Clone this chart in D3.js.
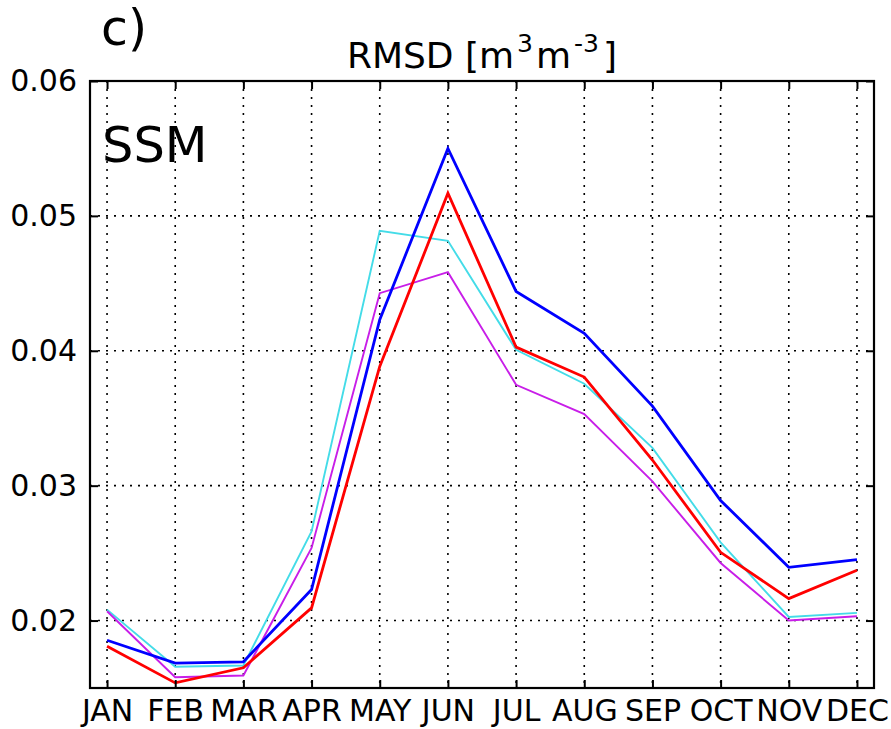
<!DOCTYPE html>
<html>
<head>
<meta charset="utf-8">
<script src="https://cdn.jsdelivr.net/npm/d3@7"></script>
<style>
  body { margin: 0; background: #fff; }
  text { font-family: "DejaVu Sans", sans-serif; fill: #000; }
</style>
</head>
<body>
<div class="container"></div>
<script>
let months = ["JAN", "FEB", "MAR", "APR", "MAY", "JUN", "JUL", "AUG", "SEP", "OCT", "NOV", "DEC"];
let yTicks = [0.02, 0.03, 0.04, 0.05, 0.06];

let blueValues = [0.01854, 0.01684, 0.01694, 0.0223, 0.0423, 0.0550, 0.0444, 0.0413, 0.0359, 0.0289, 0.02395, 0.02452];
let redValues = [0.0181, 0.01538, 0.0165, 0.02094, 0.03884, 0.05168, 0.04027, 0.03805, 0.0319, 0.02506, 0.02163, 0.02373];
let cyanValues = [0.02081, 0.01657, 0.01667, 0.02661, 0.04889, 0.04815, 0.04007, 0.03756, 0.0328, 0.0258, 0.02027, 0.02057];
let magentaValues = [0.02069, 0.0158, 0.01593, 0.02538, 0.04427, 0.04583, 0.03748, 0.03531, 0.03032, 0.02427, 0.0200, 0.02032];

let series = [
  { values: cyanValues, color: "#44dce8", width: 1.9 },
  { values: magentaValues, color: "#c81ee8", width: 1.9 },
  { values: blueValues, color: "#0000ff", width: 2.8 },
  { values: redValues, color: "#ff0000", width: 2.8 }
];

let width = 891, height = 729;
let plotLeft = 90, plotRight = 874, plotTop = 81, plotBottom = 688;

let svg = d3.select(".container")
  .append("svg")
  .attr("width", width)
  .attr("height", height);

let x = d3.scaleLinear().domain([0.75, 12.25]).range([plotLeft, plotRight]);
let y = d3.scaleLinear().domain([0.015, 0.06]).range([plotBottom, plotTop]);

// grid
let grid = svg.append("g").attr("class", "grid");
months.forEach((m, i) => {
  grid.append("line")
    .attr("x1", x(i + 1)).attr("x2", x(i + 1))
    .attr("y1", plotTop).attr("y2", plotBottom)
    .attr("stroke", "#000")
    .attr("stroke-width", 1.6)
    .attr("stroke-dasharray", "2,6");
});
yTicks.forEach(t => {
  grid.append("line")
    .attr("x1", plotLeft).attr("x2", plotRight)
    .attr("y1", y(t)).attr("y2", y(t))
    .attr("stroke", "#000")
    .attr("stroke-width", 1.6)
    .attr("stroke-dasharray", "2,6");
});

// lines
let line = d3.line()
  .x((d, i) => x(i + 1))
  .y(d => y(d));

series.forEach(s => {
  svg.append("path")
    .datum(s.values)
    .attr("d", line)
    .attr("fill", "none")
    .attr("stroke", s.color)
    .attr("stroke-width", s.width)
    .attr("stroke-linejoin", "miter");
});

// axes with inward ticks on all four sides
let tickLen = 8;
svg.append("g")
  .attr("transform", `translate(0,${plotBottom})`)
  .call(d3.axisBottom(x).tickValues(d3.range(1, 13)).tickSize(-tickLen).tickPadding(12).tickFormat(d => months[d - 1]))
  .call(g => g.select(".domain").remove())
  .call(g => g.selectAll("text").attr("font-size", 30).attr("font-family", "DejaVu Sans"));
svg.append("g")
  .attr("transform", `translate(0,${plotTop})`)
  .call(d3.axisTop(x).tickValues(d3.range(1, 13)).tickSize(-tickLen).tickFormat(""))
  .call(g => g.select(".domain").remove());
svg.append("g")
  .attr("transform", `translate(${plotLeft},0)`)
  .call(d3.axisLeft(y).tickValues(yTicks).tickSize(-tickLen).tickPadding(13).tickFormat(d3.format(".2f")))
  .call(g => g.select(".domain").remove())
  .call(g => g.selectAll("text").attr("font-size", 30).attr("font-family", "DejaVu Sans"));
svg.append("g")
  .attr("transform", `translate(${plotRight},0)`)
  .call(d3.axisRight(y).tickValues(yTicks).tickSize(-tickLen).tickFormat(""))
  .call(g => g.select(".domain").remove());
svg.selectAll(".tick line").attr("stroke", "#000").attr("stroke-width", 2);

// frame
svg.append("rect")
  .attr("x", plotLeft).attr("y", plotTop)
  .attr("width", plotRight - plotLeft).attr("height", plotBottom - plotTop)
  .attr("fill", "none")
  .attr("stroke", "#000")
  .attr("stroke-width", 2.2);

// texts
svg.append("text")
  .attr("x", 102).attr("y", 162)
  .attr("font-size", 49.5)
  .text("SSM");

svg.append("text")
  .attr("x", 101).attr("y", 45)
  .attr("font-size", 49)
  .text("c)");

let title = svg.append("text")
  .attr("x", (plotLeft + plotRight) / 2).attr("y", 68)
  .attr("text-anchor", "middle")
  .attr("font-size", 36);
title.append("tspan").text("RMSD [m");
title.append("tspan").attr("dy", -16).attr("dx", 3).attr("font-size", 25).text("3");
title.append("tspan").attr("dy", 16).attr("dx", 3).text("m");
title.append("tspan").attr("dy", -16).attr("dx", 3).attr("font-size", 25).text("-3");
title.append("tspan").attr("dy", 16).attr("dx", 4).text("]");
</script>
</body>
</html>
